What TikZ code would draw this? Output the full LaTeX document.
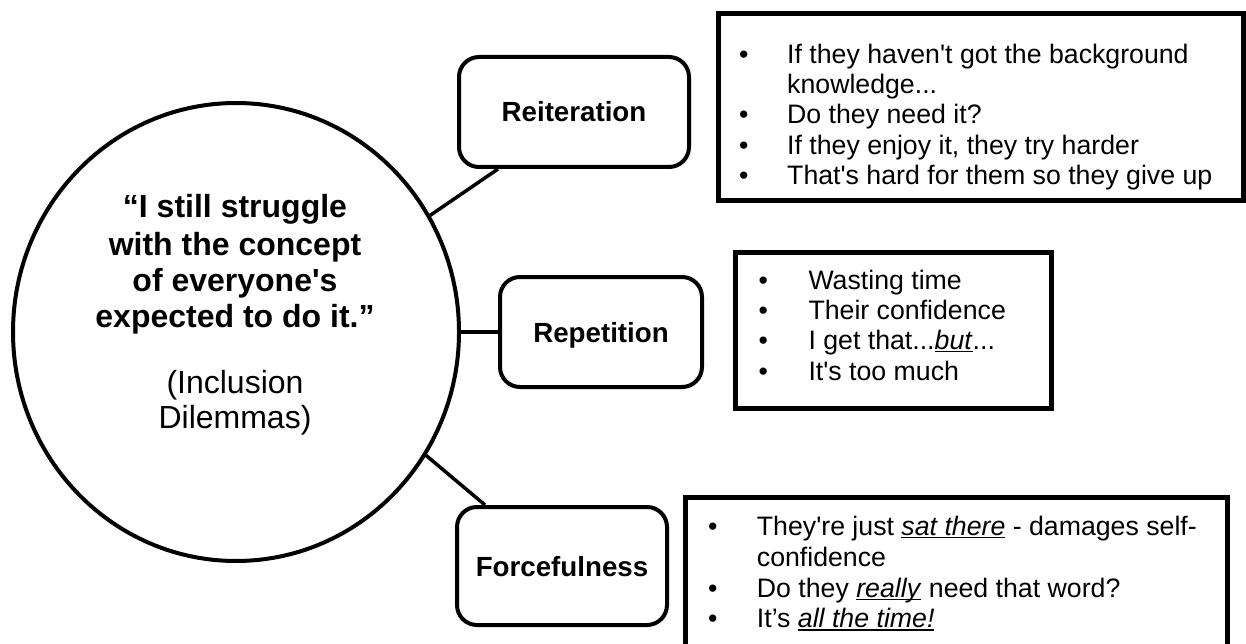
\documentclass[tikz,border=0pt]{standalone}
\usepackage{fontspec}
\setmainfont{Liberation Sans}[Ligatures=TeXOff]
\usetikzlibrary{shapes.geometric,calc}
\newcommand\myul[1]{\setbox0\hbox{#1}\rlap{\rule[-3.4pt]{\wd0}{1.8pt}}\box0\relax}
\begin{document}
\begin{tikzpicture}[x=1pt,y=-1pt,
  circ/.style={ellipse,draw,line width=4pt,minimum width=446pt,minimum height=458pt,inner sep=0pt},
  lbox/.style={draw,rectangle,rounded corners=20pt,line width=4pt,inner sep=0pt,
    font=\fontsize{27.7}{32}\selectfont\bfseries,text height=20pt,text depth=0pt},
  tbox/.style={draw,rectangle,line width=5pt,inner sep=0pt},
  conn/.style={line width=3.5pt},
  qb/.style={anchor=base,inner sep=0pt,font=\fontsize{32}{36}\selectfont\bfseries},
  qr/.style={anchor=base,inner sep=0pt,font=\fontsize{32}{36}\selectfont},
  bul/.style={anchor=base,inner sep=0pt,font=\fontsize{26.7}{30}\selectfont},
  txt/.style={anchor=base west,inner sep=0pt,font=\fontsize{26.7}{30}\selectfont}]
\useasboundingbox (0,0) rectangle (1246,644);

% central circle
\node[circ] (c) at (236,332) {};
\node[qb] (q1) at (235,218) {“I still struggle};
\node[qb] (q2) at (235,255) {with the concept};
\node[qb] (q3) at (235,291) {of everyone's};
\node[qb] (q4) at (235,327) {expected to do it.”};
\node[qr] (d1) at (235,393) {(Inclusion};
\node[qr] (d2) at (235,428) {Dilemmas)};

% label boxes
\node[lbox,minimum width=230pt,minimum height=110pt] (reit) at (574,112) {Reiteration};
\node[lbox,minimum width=202pt,minimum height=110pt] (rep) at (601,332) {Repetition};
\node[lbox,minimum width=210pt,minimum height=118pt] (forc) at (562,566) {Forcefulness};

% connectors
\coordinate (rt) at ($(reit.south west)+(41,0)$);
\coordinate (ft) at ($(forc.north west)+(30,0)$);
\draw[conn] (c.31.5) -- (rt);
\draw[conn] (c.east) -- (rep.west);
\draw[conn] (c.-33.3) -- (ft);

% text boxes
\node[tbox,minimum width=525pt,minimum height=187pt] (rbx) at (980.5,107.5) {};
\node[tbox,minimum width=316pt,minimum height=156pt] (pbx) at (893,330) {};
\node[tbox,minimum width=542pt,minimum height=173pt] (fbx) at (956,583.5) {};

% Reiteration list
\node[bul] (rb1) at (743.7,63.3) {•};
\node[txt] (rt1) at (787,63.3) {If they haven't got the background};
\node[txt] (rt2) at (787,93.6) {knowledge...};
\node[bul] (rb3) at (743.7,123.9) {•};
\node[txt] (rt3) at (787,123.9) {Do they need it?};
\node[bul] (rb4) at (743.7,154.2) {•};
\node[txt] (rt4) at (787,154.2) {If they enjoy it, they try harder};
\node[bul] (rb5) at (743.7,184.5) {•};
\node[txt] (rt5) at (787,184.5) {That's hard for them so they give up};

% Repetition list
\node[bul] (pb1) at (763.3,289) {•};
\node[txt] (pt1) at (808.3,289) {Wasting time};
\node[bul] (pb2) at (763.3,319) {•};
\node[txt] (pt2) at (808.3,319) {Their confidence};
\node[bul] (pb3) at (763.3,349) {•};
\node[txt] (pt3) at (808.3,349) {I get that...\myul{\textit{but}}...};
\node[bul] (pb4) at (763.3,380) {•};
\node[txt] (pt4) at (808.3,380) {It's too much};

% Forcefulness list
\node[bul] (fb1) at (712.7,535) {•};
\node[txt] (ft1) at (756.7,535) {They're just \myul{\textit{sat there}} - damages self-};
\node[txt] (ft2) at (756.7,566) {confidence};
\node[bul] (fb3) at (712.7,597) {•};
\node[txt] (ft3) at (756.7,597) {Do they \myul{\textit{really}} need that word?};
\node[bul] (fb4) at (712.7,627.5) {•};
\node[txt] (ft4) at (756.7,627.5) {It’s \myul{\textit{all the time!}}};
\end{tikzpicture}
\end{document}
